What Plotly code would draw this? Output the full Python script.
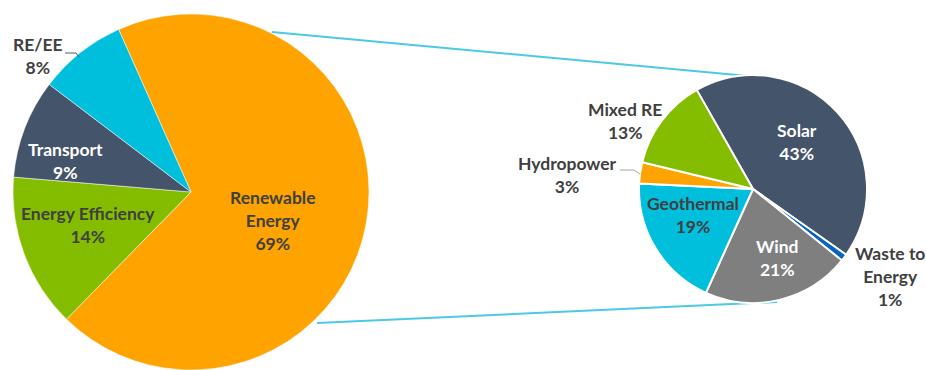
import plotly.graph_objects as go

W, H = 926, 370

# ---- data ----
main_labels = ["Renewable Energy", "Energy Efficiency", "Transport", "RE/EE"]
main_values = [69, 14, 9, 8]
main_colors = ["#FFA300", "#84BD00", "#44546A", "#00BFDC"]

re_labels = ["Solar", "Waste to Energy", "Wind", "Geothermal", "Hydropower", "Mixed RE"]
re_values = [43, 1, 21, 19, 3, 13]
re_colors = ["#44546A", "#0563C1", "#7F7F7F", "#00BFDC", "#FFA300", "#84BD00"]

def fx(x):
    return x / W

def fy(y):
    return 1 - y / H

fig = go.Figure()

fig.add_trace(go.Pie(
    labels=main_labels, values=main_values, sort=False, direction="clockwise",
    rotation=-24, marker=dict(colors=main_colors, line=dict(color="white", width=0.5)),
    textinfo="none", hoverinfo="label+percent", showlegend=False,
    domain=dict(x=[fx(10), fx(372)], y=[0, fy(14)]),
))

fig.add_trace(go.Pie(
    labels=re_labels, values=re_values, sort=False, direction="clockwise",
    rotation=-29.6, marker=dict(colors=re_colors, line=dict(color="white", width=2)),
    textinfo="none", hoverinfo="label+percent", showlegend=False,
    domain=dict(x=[fx(639), fx(867)], y=[fy(303), fy(75)]),
))

# ---- label layout (pixel positions of label centres) ----
DARK = "#404040"
main_label_pos = {
    "Renewable Energy": (273, 220, "Renewable<br>Energy", DARK),
    "Energy Efficiency": (88, 225, "Energy Efficiency", DARK),
    "Transport": (65, 161, "Transport", "white"),
    "RE/EE": (38, 56, "RE/EE", DARK),
}
re_label_pos = {
    "Solar": (797, 142, "Solar", "white"),
    "Waste to Energy": (890, 276, "Waste to<br>Energy", DARK),
    "Wind": (777, 258, "Wind", "white"),
    "Geothermal": (693, 215, "Geothermal", DARK),
    "Hydropower": (567, 175, "Hydropower", DARK),
    "Mixed RE": (625, 121, "Mixed RE", DARK),
}

annotations = []
for labels, values, pos in ((main_labels, main_values, main_label_pos),
                            (re_labels, re_values, re_label_pos)):
    total = sum(values)
    for lab, val in zip(labels, values):
        x, y, txt, col = pos[lab]
        pct = round(100 * val / total)
        annotations.append(dict(
            x=fx(x), y=fy(y), xref="paper", yref="paper", showarrow=False,
            xanchor="center", yanchor="middle", align="center",
            text=f"{txt}<br>{pct}%",
            font=dict(family="Lato", size=17.5, color=col, weight="bold"),
        ))

CONN = "#4CC9E3"
shapes = [
    dict(type="line", xref="paper", yref="paper", x0=fx(272), y0=fy(32), x1=fx(748), y1=fy(76),
         line=dict(color=CONN, width=2), layer="below"),
    dict(type="line", xref="paper", yref="paper", x0=fx(317), y0=fy(323), x1=fx(777), y1=fy(302),
         line=dict(color=CONN, width=2), layer="below"),
    dict(type="path", xref="paper", yref="paper",
         path=f"M {fx(65)} {fy(53)} L {fx(76)} {fy(53)} L {fx(79)} {fy(57)}",
         line=dict(color="#595959", width=1)),
    dict(type="path", xref="paper", yref="paper",
         path=f"M {fx(620)} {fy(170)} L {fx(634)} {fy(170)} L {fx(640)} {fy(174)}",
         line=dict(color="#A6A6A6", width=1)),
]

fig.update_layout(
    width=W, height=H, margin=dict(l=0, r=0, t=0, b=0),
    paper_bgcolor="white", plot_bgcolor="white",
    annotations=annotations, shapes=shapes,
)

fig.write_html("out.html")
